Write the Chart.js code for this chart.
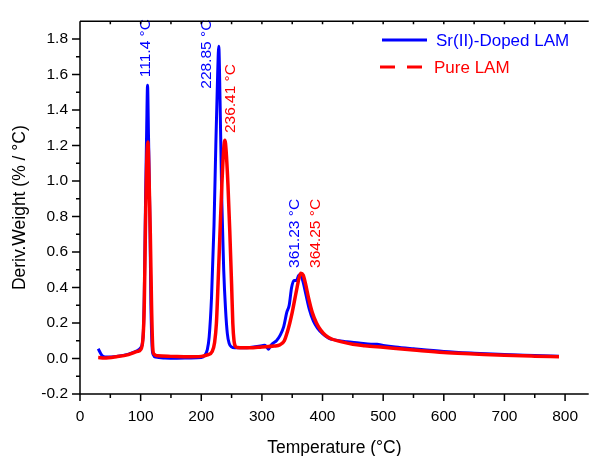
<!DOCTYPE html>
<html lang="en">
<head>
<meta charset="UTF-8">
<title>DTG curves</title>
<script src="https://cdn.jsdelivr.net/npm/chart.js"></script>
<style>
    body { margin: 0; background: #fff; }
    #wrap { width: 591px; height: 456px; }
</style>
</head>
<body>
<div id="wrap"><canvas id="dtgChart"></canvas></div>
<script>
// Sr(II)-doped sample
const dopedTemp = [30, 33, 37, 45, 60, 80, 95, 100, 104, 106, 108, 110, 111.4, 113, 115, 117, 119, 121, 125, 140, 160, 180, 200,
    205, 210, 213, 217, 221, 224, 227, 228.85, 231, 234, 237, 240, 243, 246, 250, 255, 280, 300, 305, 308, 311, 314, 318,
    324, 330, 336, 341, 345, 349, 353, 357, 361.23, 364, 368, 372, 378, 385, 392, 400, 410, 420, 440, 460, 480, 490, 500,
    520, 550, 600, 650, 700, 750, 790];
const dopedWeight = [0.055, 0.035, 0.015, 0.008, 0.012, 0.025, 0.045, 0.06, 0.12, 0.35, 0.87, 1.3, 1.54, 1.25, 0.85, 0.3, 0.06, 0.02, 0.008, 0.003, 0.002, 0.003, 0.006,
    0.015, 0.05, 0.12, 0.35, 0.75, 1.2, 1.6, 1.76, 1.45, 0.87, 0.5, 0.28, 0.14, 0.085, 0.065, 0.06, 0.062, 0.072, 0.075, 0.065, 0.052, 0.07, 0.085,
    0.1, 0.13, 0.18, 0.26, 0.3, 0.4, 0.44, 0.44, 0.47, 0.47, 0.43, 0.37, 0.28, 0.21, 0.17, 0.14, 0.115, 0.105, 0.095, 0.088, 0.08, 0.08, 0.074,
    0.065, 0.055, 0.04, 0.03, 0.022, 0.017, 0.013];

// pure sample
const pureTemp = [30, 40, 60, 80, 95, 100, 104, 106, 108, 110, 112, 114, 116, 118, 120, 122, 128, 150, 180, 200, 210,
    218, 222, 225, 228, 231, 234, 237, 239, 241, 244, 247, 250, 252, 254, 256, 260, 280, 300, 320, 330, 337, 342, 346,
    350, 354, 358, 361, 364.25, 368, 372, 377, 383, 390, 397, 405, 415, 430, 450, 470, 500, 550, 600, 650, 700, 750, 790];
const pureWeight = [0.005, 0.003, 0.01, 0.022, 0.04, 0.05, 0.12, 0.3, 0.75, 1.1, 1.22, 1.0, 0.7, 0.3, 0.06, 0.025, 0.015, 0.012, 0.01, 0.012, 0.02,
    0.04, 0.09, 0.2, 0.45, 0.72, 0.98, 1.18, 1.23, 1.17, 0.98, 0.72, 0.42, 0.2, 0.1, 0.07, 0.062, 0.06, 0.065, 0.07, 0.078, 0.1, 0.15, 0.2,
    0.26, 0.33, 0.4, 0.45, 0.48, 0.47, 0.42, 0.34, 0.26, 0.2, 0.16, 0.13, 0.11, 0.095, 0.08, 0.072, 0.063, 0.048, 0.034, 0.026, 0.018, 0.013, 0.01];

const seriesNames = ['Sr(II)-Doped LAM', 'Pure LAM'];
const xTicks = [0, 100, 200, 300, 400, 500, 600, 700, 800];
const yTicks = [-0.2, 0.0, 0.2, 0.4, 0.6, 0.8, 1.0, 1.2, 1.4, 1.6, 1.8];
const peakTexts = ['111.4 °C', '228.85 °C', '236.41 °C', '361.23 °C', '364.25 °C'];

const FONT = '"Liberation Sans", Arial, sans-serif';
const BLUE = '#0000ff';
const RED = '#ff0000';

function toPoints(xs, ys) {
    return xs.map((t, i) => ({ x: t, y: ys[i] }));
}

// box, major + minor ticks
const framePlugin = {
    id: 'frame',
    afterDraw(chart) {
        const { ctx, chartArea: a, scales: { x, y } } = chart;
        ctx.save();
        ctx.strokeStyle = '#000';
        ctx.lineWidth = 1.5;
        ctx.beginPath();
        ctx.moveTo(a.left, a.top);
        ctx.lineTo(a.left, a.bottom);
        ctx.lineTo(a.right, a.bottom);
        ctx.moveTo(a.left, a.top);
        ctx.lineTo(a.right, a.top);
        for (let v = 0; v <= 800; v += 50) {
            const px = x.getPixelForValue(v);
            const len = v % 100 === 0 ? 7 : 4;
            ctx.moveTo(px, a.bottom);
            ctx.lineTo(px, a.bottom + len);
            ctx.moveTo(px, a.top);
            ctx.lineTo(px, a.top + 3);
        }
        for (let i = -2; i <= 18; i++) {
            const py = y.getPixelForValue(i / 10);
            const len = i % 2 === 0 ? 8 : 4;
            ctx.moveTo(a.left - len, py);
            ctx.lineTo(a.left, py);
        }
        ctx.stroke();
        ctx.restore();
    }
};

// rotated peak temperatures
const peakPlugin = {
    id: 'peaks',
    afterDatasetsDraw(chart) {
        const { ctx, scales: { x, y } } = chart;
        const anchors = [[109, 1.585, BLUE], [209, 1.52, BLUE], [248.5, 1.27, RED], [353.5, 0.51, BLUE], [389, 0.51, RED]];
        ctx.save();
        ctx.font = '15.5px ' + FONT;
        ctx.textAlign = 'left';
        ctx.textBaseline = 'middle';
        peakTexts.forEach((txt, i) => {
            const [t, v, c] = anchors[i];
            ctx.save();
            ctx.translate(x.getPixelForValue(t), y.getPixelForValue(v));
            ctx.rotate(-Math.PI / 2);
            ctx.fillStyle = c;
            ctx.fillText(txt, 0, 0);
            ctx.restore();
        });
        ctx.restore();
    }
};

// legend: solid blue line, dashed red line
const legendPlugin = {
    id: 'customLegend',
    afterDraw(chart) {
        const { ctx } = chart;
        ctx.save();
        ctx.font = '17px ' + FONT;
        ctx.textBaseline = 'middle';
        ctx.lineWidth = 3;

        ctx.strokeStyle = BLUE;
        ctx.beginPath();
        ctx.moveTo(382, 40);
        ctx.lineTo(427, 40);
        ctx.stroke();
        ctx.fillStyle = BLUE;
        ctx.fillText(seriesNames[0], 436, 41);

        ctx.strokeStyle = RED;
        ctx.setLineDash([15, 12]);
        ctx.beginPath();
        ctx.moveTo(380, 67);
        ctx.lineTo(422, 67);
        ctx.stroke();
        ctx.setLineDash([]);
        ctx.fillStyle = RED;
        ctx.fillText(seriesNames[1], 434, 68);
        ctx.restore();
    }
};

const ctx = document.getElementById('dtgChart').getContext('2d');
const dtgChart = new Chart(ctx, {
    type: 'line',
    data: {
        datasets: [
            {
                label: seriesNames[1],
                data: toPoints(pureTemp, pureWeight),
                borderColor: RED,
                borderWidth: 3.5,
                order: 0
            },
            {
                label: seriesNames[0],
                data: toPoints(dopedTemp, dopedWeight),
                borderColor: BLUE,
                borderWidth: 3,
                order: 1
            }
        ]
    },
    options: {
        responsive: true,
        maintainAspectRatio: false,
        animation: false,
        layout: { padding: { top: 15, right: 0, left: 0, bottom: 0 } },
        elements: {
            point: { radius: 0 },
            line: { cubicInterpolationMode: 'monotone', fill: false }
        },
        plugins: {
            legend: { display: false },
            tooltip: { enabled: false }
        },
        scales: {
            x: {
                type: 'linear',
                min: 0,
                max: 839,
                grid: { display: false, drawTicks: false },
                border: { display: false },
                afterBuildTicks: s => { s.ticks = xTicks.map(v => ({ value: v })); },
                afterFit: s => { s.height = 62; },
                ticks: {
                    color: '#000',
                    font: { family: FONT, size: 15.5 },
                    padding: 13,
                    maxRotation: 0,
                    autoSkip: false
                },
                title: {
                    display: true,
                    text: 'Temperature (°C)',
                    color: '#000',
                    font: { family: FONT, size: 17.5, lineHeight: 1 },
                    padding: { top: 0, bottom: -1 }
                }
            },
            y: {
                min: -0.2,
                max: 1.9,
                grid: { display: false, drawTicks: false },
                border: { display: false },
                afterBuildTicks: s => { s.ticks = yTicks.map(v => ({ value: v })); },
                afterFit: s => { s.width = 80; },
                ticks: {
                    color: '#000',
                    font: { family: FONT, size: 15.5 },
                    padding: 12,
                    autoSkip: false,
                    callback: v => v.toFixed(1)
                },
                title: {
                    display: true,
                    text: 'Deriv.Weight (% / °C)',
                    color: '#000',
                    font: { family: FONT, size: 17.5, lineHeight: 1 },
                    padding: { top: 11, bottom: 0 }
                }
            }
        }
    },
    plugins: [framePlugin, peakPlugin, legendPlugin]
});
</script>
</body>
</html>
